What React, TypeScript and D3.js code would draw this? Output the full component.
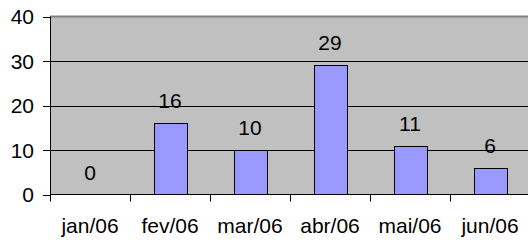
import React from "react";
import * as d3 from "d3";

const categories = ["jan/06", "fev/06", "mar/06", "abr/06", "mai/06", "jun/06"];
const values = [0, 16, 10, 29, 11, 6];
const yTicks = [0, 10, 20, 30, 40];

export default function App() {
  const W = 528, H = 240;
  const left = 50, right = 530, top = 16.5, bottom = 194.5;
  const x = d3.scaleBand<string>().domain(categories).range([left, right]).padding(0);
  const y = d3.scaleLinear().domain([0, 40]).range([bottom, top]);
  const bw = x.bandwidth() * 0.41;
  const font = "Arial, 'Liberation Sans', sans-serif";
  const fs = 21;
  return (
    <svg width={W} height={H} style={{ position: "absolute", left: 0, top: 0, display: "block" }}>
      <rect x={left} y={top} width={right - left} height={bottom - top} fill="#C0C0C0" />
      {yTicks.filter(t => t > 0 && t < 40).map(t => (
        <line key={t} x1={left} x2={right} y1={Math.round(y(t)) + 0.5} y2={Math.round(y(t)) + 0.5} stroke="#000" strokeWidth={1} />
      ))}
      <line x1={left} x2={right} y1={top} y2={top} stroke="#808080" strokeWidth={2} />
      {values.map((v, i) => {
        const c = categories[i];
        const bx = Math.round(x(c)! + (x.bandwidth() - bw) / 2) + 0.5;
        const by = Math.round(y(v)) + 0.5;
        return (
          <g key={c}>
            {v > 0 && (
              <rect x={bx} y={by} width={Math.round(bw)} height={y(0) - by} fill="#9999FF" stroke="#000" strokeWidth={1} />
            )}
            <text x={x(c)! + x.bandwidth() / 2} y={y(v) - 15} textAnchor="middle" fontFamily={font} fontSize={fs} fill="#000">{v}</text>
          </g>
        );
      })}
      <line x1={left + 0.5} x2={left + 0.5} y1={top} y2={bottom} stroke="#000" strokeWidth={1} />
      <line x1={left} x2={right} y1={bottom} y2={bottom} stroke="#000" strokeWidth={1} />
      {yTicks.map(t => (
        <g key={t}>
          <line x1={left - 7} x2={left} y1={Math.round(y(t)) + 0.5} y2={Math.round(y(t)) + 0.5} stroke="#000" strokeWidth={1} />
          <text x={34} y={y(t) + 7.5} textAnchor="end" fontFamily={font} fontSize={fs} fill="#000">{t}</text>
        </g>
      ))}
      {categories.map((c, i) => (
        <line key={"t" + i} x1={Math.round(x(c)!) + 0.5} x2={Math.round(x(c)!) + 0.5} y1={bottom} y2={bottom + 7} stroke="#000" strokeWidth={1} />
      ))}
      {categories.map(c => (
        <text key={"l" + c} x={x(c)! + x.bandwidth() / 2} y={233} textAnchor="middle" fontFamily={font} fontSize={fs} fill="#000">{c}</text>
      ))}
    </svg>
  );
}
